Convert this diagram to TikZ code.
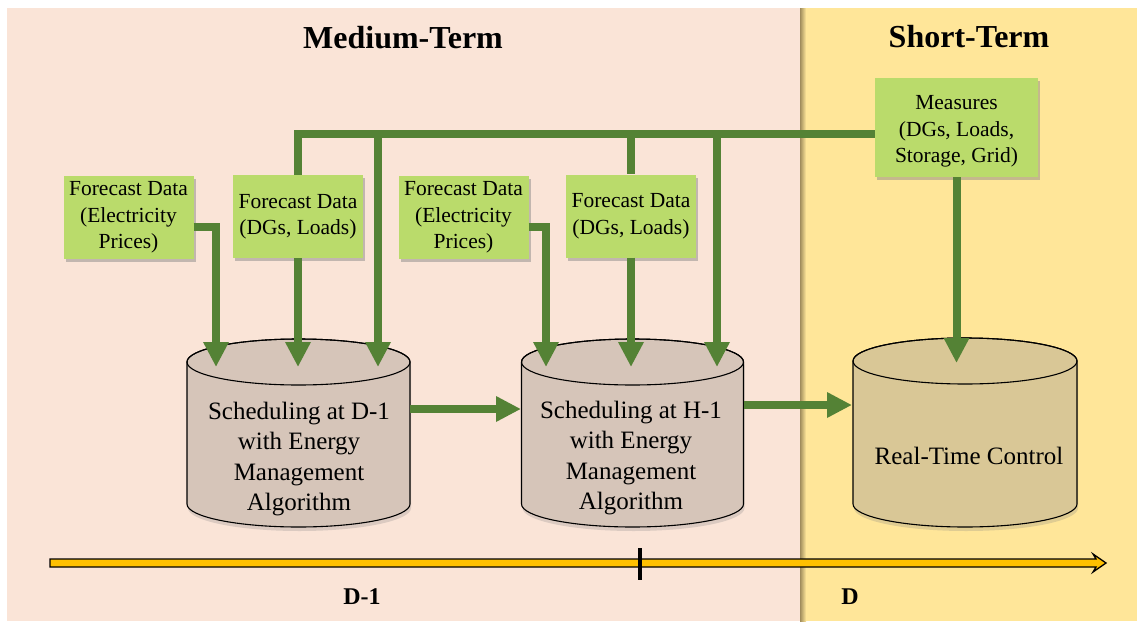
\documentclass[tikz,border=0pt]{standalone}
\usepackage{fontspec}
\setmainfont{Liberation Serif}
\usetikzlibrary{arrows.meta,shadows}
\definecolor{pinkbg}{HTML}{FAE4D7}
\definecolor{yellowbg}{HTML}{FFE699}
\definecolor{boxgreen}{HTML}{BADB6B}
\definecolor{linegreen}{HTML}{548235}
\definecolor{cylA}{HTML}{D6C5B9}
\definecolor{cylB}{HTML}{D9C796}
\definecolor{tlorange}{HTML}{FFC000}
\definecolor{edgeshadow}{HTML}{A08C5C}
\newcommand\cylfig[5]{%
  \path[fill=#5, draw=black, line width=1.1pt,
        drop shadow={shadow xshift=1pt, shadow yshift=-4pt, opacity=0.25}]
    (#1-#4,#2) -- (#1-#4,#3)
    arc[start angle=180, end angle=360, x radius=#4pt, y radius=23pt]
    -- (#1+#4,#2)
    arc[start angle=0, end angle=180, x radius=#4pt, y radius=23pt] -- cycle;
  \draw[line width=1.1pt] (#1,#2) ellipse[x radius=#4pt, y radius=23pt];}
\begin{document}
\begin{tikzpicture}[x=1pt, y=-1pt,
  box/.style={fill=boxgreen, align=center, inner sep=0pt,
    minimum width=130pt, minimum height=83pt,
    font=\fontsize{21.5}{26.5}\selectfont,
    drop shadow={shadow xshift=2pt, shadow yshift=-3pt, opacity=0.45}},
  link/.style={draw=linegreen, line width=8pt, line join=miter},
  flow/.style={link, -{Triangle[width=24pt, length=25pt]}},
  cyltext/.style={align=center, font=\fontsize{25}{30.5}\selectfont},
  title/.style={font=\bfseries\fontsize{32}{38}\selectfont},
  tlabel/.style={font=\bfseries\fontsize{24}{28}\selectfont}]
\useasboundingbox (0,0) rectangle (1137,621);
\fill[white] (0,0) rectangle (1137,621);
% panels
\fill[pinkbg] (7,8) rectangle (800,621);
\fill[yellowbg] (800,8) rectangle (1137,621);
\shade[left color=edgeshadow, right color=yellowbg] (800,8) rectangle (806,621);
% titles
\node[title] (mt) at (403,38) {Medium-Term};
\node[title] (st) at (969,37) {Short-Term};
% cylinders
\cylfig{298.5}{362}{504}{111.5}{cylA}
\cylfig{632.5}{362}{504}{111}{cylA}
\cylfig{965}{361}{504}{112}{cylB}
\node[cyltext] (c1) at (299,459) {Scheduling at D-1\\with Energy\\Management\\Algorithm};
\node[cyltext] (c2) at (631,458) {Scheduling at H-1\\with Energy\\Management\\Algorithm};
\node[cyltext] (c3) at (969,456) {Real-Time Control};
% green boxes
\node[box] (fd1) at (128.5,217.5) {Forecast Data\\(Electricity\\Prices)};
\node[box] (fd2) at (298,216.5) {Forecast Data\\(DGs, Loads)};
\node[box] (fd3) at (463.5,217.5) {Forecast Data\\(Electricity\\Prices)};
\node[box] (fd4) at (631,216) {Forecast Data\\(DGs, Loads)};
\node[box, minimum width=163pt, minimum height=99pt] (meas) at (956.5,127.5) {\rule{0pt}{22pt}Measures\\(DGs, Loads,\\Storage, Grid)};
% coordinates
\coordinate (t11) at (216,367);
\coordinate (t12) at (298,367);
\coordinate (t13) at (378,367);
\coordinate (t21) at (546,367);
\coordinate (t22) at (631,367);
\coordinate (t23) at (717,367);
\coordinate (t3) at (956.5,363);
\coordinate (b1) at (378,134);
\coordinate (b2) at (631,134);
\coordinate (b3) at (717,134);
\coordinate (c1r) at (410,409);
\coordinate (c2l) at (521,409);
\coordinate (c2r) at (743.5,405);
\coordinate (c3l) at (852,405);
% bus and links
\draw[link] ([yshift=-6.5pt]meas.west) -| (fd2.north);
\draw[link] (b2) -- (fd4.north);
\draw[flow] (b1) -- (t13);
\draw[flow] (b3) -- (t23);
\draw[flow] ([yshift=-9pt]fd1.east) -| (t11);
\draw[flow] (fd2.south) -- (t12);
\draw[flow] ([yshift=-9pt]fd3.east) -| (t21);
\draw[flow] (fd4.south) -- (t22);
\draw[flow] (meas.south) -- (t3);
\draw[flow] (c1r) -- (c2l);
\draw[flow] (c2r) -- (c3l);
% timeline
\draw[fill=tlorange, draw=black, line width=1.3pt, line join=miter]
  (50,559) -- (1096,559) -- (1093,554) -- (1106,563) -- (1093,572)
  -- (1096,567) -- (50,567) -- cycle;
\draw[line width=4pt] (640,548) -- (640,580);
\node[tlabel] (d1) at (362,597) {D-1};
\node[tlabel] (d) at (850,597) {D};
\end{tikzpicture}
\end{document}
